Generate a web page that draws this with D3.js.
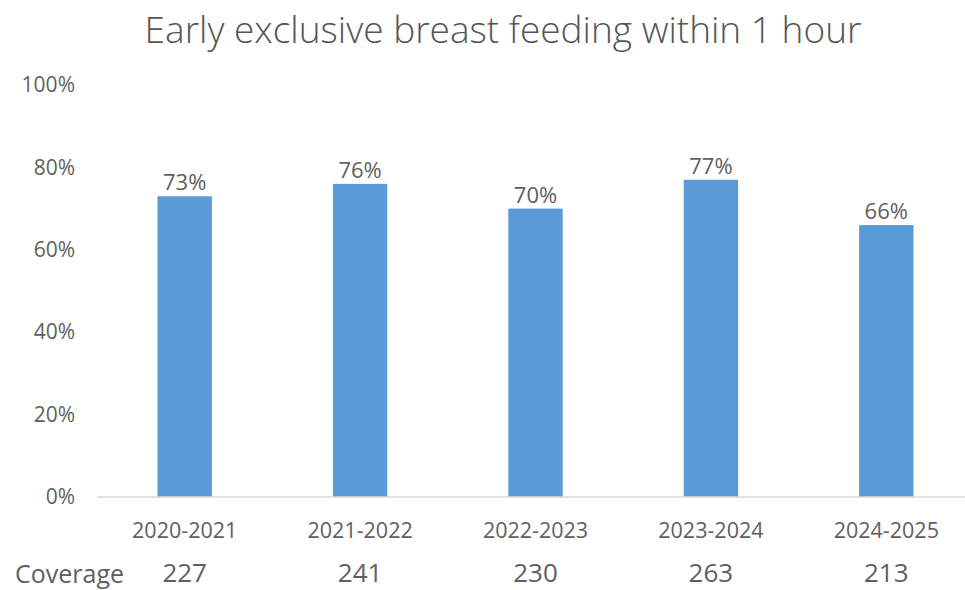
<!DOCTYPE html>
<html>
<head>
<meta charset="utf-8">
<script src="https://cdn.jsdelivr.net/npm/d3@7"></script>
<style>
  html, body { margin: 0; padding: 0; background: #ffffff; }
  svg { display: block; }
</style>
</head>
<body>
<svg id="chart" width="965" height="590"></svg>
<script>
// Chart data
const titleText = "Early exclusive breast feeding within 1 hour";
const periods = ["2020-2021", "2021-2022", "2022-2023", "2023-2024", "2024-2025"];
const rates = [73, 76, 70, 77, 66];          // percent
const coverage = [227, 241, 230, 263, 213];  // sample counts
const coverageLabel = "Coverage";
const yTicks = [0, 20, 40, 60, 80, 100];

const svg = d3.select("#chart");
const font = "'Open Sans', 'Liberation Sans', sans-serif";
const textGrey = "#5f5f5f";

const x = d3.scaleBand().domain(periods).range([97, 974]).paddingInner(0.69).paddingOuter(0.345);
const y = d3.scaleLinear().domain([0, 100]).range([497, 85]);

// Title, sized to span its line
const title = svg.append("text")
  .attr("x", 503).attr("y", 43)
  .attr("text-anchor", "middle")
  .attr("font-family", "'Open Sans', 'Noto Sans', sans-serif")
  .attr("font-weight", 300)
  .attr("font-size", 30)
  .attr("fill", "#555555")
  .text(titleText);
const tw = title.node().getComputedTextLength();
title.attr("font-size", 30 * 717 / tw);

// Y axis tick labels (no axis line)
const yAxis = d3.axisLeft(y).tickValues(yTicks).tickFormat(d => d + "%").tickSize(0).tickPadding(0);
const yg = svg.append("g").attr("transform", "translate(75,0)").call(yAxis);
yg.select(".domain").remove();
yg.selectAll("text")
  .attr("font-family", font).attr("font-size", 21).attr("fill", textGrey);

// Bars
svg.append("g").selectAll("rect")
  .data(periods)
  .join("rect")
  .attr("x", d => x(d))
  .attr("width", x.bandwidth())
  .attr("y", (d, i) => y(rates[i]))
  .attr("height", (d, i) => y(0) - y(rates[i]))
  .attr("fill", "#5B9BD5");

// Baseline / category axis
const xAxis = d3.axisBottom(x).tickSize(0).tickPadding(0);
const xg = svg.append("g").attr("transform", `translate(0,${y(0)})`).call(xAxis);
xg.select(".domain").attr("stroke", "#d9d9d9").attr("stroke-width", 1.5)
  .attr("d", `M${x.range()[0]},0H${x.range()[1]}`);
xg.selectAll("text")
  .attr("font-family", font).attr("font-size", 21.5).attr("fill", textGrey)
  .attr("dy", null).attr("y", 41);

// Value labels above bars
svg.append("g").selectAll("text")
  .data(periods)
  .join("text")
  .attr("x", d => x(d) + x.bandwidth() / 2)
  .attr("y", (d, i) => y(rates[i]) - 6)
  .attr("text-anchor", "middle")
  .attr("font-family", font).attr("font-size", 22).attr("fill", textGrey)
  .text((d, i) => rates[i] + "%");

// Coverage row
svg.append("text")
  .attr("x", 15).attr("y", 583)
  .attr("font-family", font).attr("font-size", 25).attr("fill", textGrey)
  .text(coverageLabel);
svg.append("g").selectAll("text")
  .data(periods)
  .join("text")
  .attr("x", d => x(d) + x.bandwidth() / 2)
  .attr("y", 582)
  .attr("text-anchor", "middle")
  .attr("font-family", font).attr("font-size", 26).attr("fill", textGrey)
  .text((d, i) => coverage[i]);
</script>
</body>
</html>
